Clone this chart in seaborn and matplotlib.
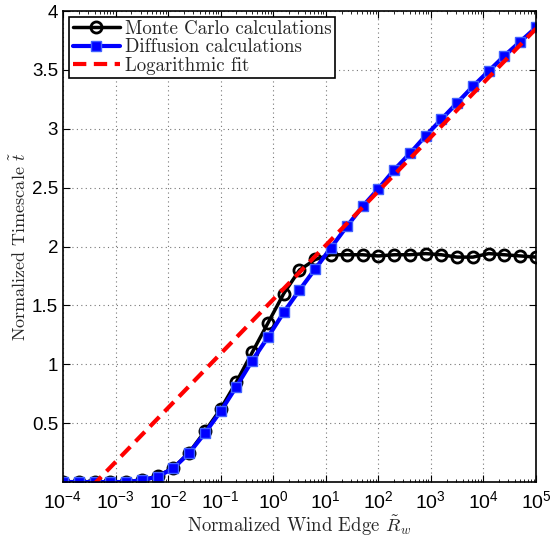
import numpy as np
import pandas as pd
import seaborn as sns
import matplotlib
matplotlib.use('Agg')
import matplotlib.pyplot as plt
from matplotlib.ticker import LogLocator, NullFormatter

# data (31 points, 0.3 decade apart from 1e-4 to 1e5)
log_r = [-4.0, -3.7, -3.4, -3.1, -2.8, -2.5, -2.2, -1.9, -1.6, -1.3, -1.0,
         -0.7, -0.4, -0.1, 0.2, 0.5, 0.8, 1.1, 1.4, 1.7, 2.0, 2.3, 2.6,
         2.9, 3.2, 3.5, 3.8, 4.1, 4.4, 4.7, 5.0]
monte_carlo = [0, 0, 0, 0, 0, 0.015, 0.05, 0.12, 0.25, 0.43, 0.62, 0.85, 1.10,
               1.35, 1.60, 1.80, 1.89, 1.93, 1.93, 1.93, 1.92, 1.93, 1.93, 1.94,
               1.93, 1.91, 1.91, 1.94, 1.93, 1.92, 1.91]
diffusion = [0, 0, 0, 0, 0, 0.015, 0.045, 0.117, 0.245, 0.415, 0.60, 0.81, 1.03,
             1.23, 1.44, 1.63, 1.81, 1.99, 2.17, 2.34, 2.49, 2.65, 2.79, 2.94,
             3.08, 3.22, 3.36, 3.49, 3.62, 3.74, 3.86]
# logarithmic fit, endpoints of the straight line on the log axis
fit_r = [1e-4, 1e5]
fit_t = [-0.29, 3.85]

y_ticks = [0.5, 1, 1.5, 2, 2.5, 3, 3.5, 4]

df = pd.DataFrame({'R': 10.0 ** np.array(log_r), 'mc': monte_carlo, 'diff': diffusion})
fit_df = pd.DataFrame({'R': fit_r, 't': fit_t})

sns.set_style('ticks')
plt.rcParams['font.family'] = ['Liberation Sans', 'DejaVu Sans']
plt.rcParams['mathtext.fontset'] = 'cm'
plt.rcParams['xtick.direction'] = 'in'
plt.rcParams['ytick.direction'] = 'in'

serif = ['cmr10', 'DejaVu Serif']

fig = plt.figure(figsize=(5.5, 5.37), dpi=100)
ax = fig.add_axes([0.1145, 0.1024, 0.8600, 0.8771])

sns.lineplot(data=df, x='R', y='mc', ax=ax, color='black', lw=2.5, marker='o',
             markersize=8, markerfacecolor='none', markeredgecolor='black',
             markeredgewidth=2, label='Monte Carlo calculations')
sns.lineplot(data=df, x='R', y='diff', ax=ax, color='#0000ff', lw=3, marker='s',
             markersize=7.5, markerfacecolor='#0000ff', markeredgecolor='#4060ff',
             markeredgewidth=1, label='Diffusion calculations')
sns.lineplot(data=fit_df, x='R', y='t', ax=ax, color='#ff0000', lw=3,
             linestyle=(0, (3.2, 1.8)), label='Logarithmic fit')

ax.set_xscale('log')
ax.set_xlim(1e-4, 1e5)
ax.set_ylim(0, 4)
ax.set_yticks(y_ticks)
ax.set_yticklabels([f'{v:g}' for v in y_ticks])
ax.xaxis.set_major_locator(LogLocator(base=10, numticks=20))
ax.xaxis.set_minor_locator(LogLocator(base=10, subs=np.arange(2, 10), numticks=20))
ax.xaxis.set_minor_formatter(NullFormatter())
ax.tick_params(axis='both', which='both', top=True, right=True, colors='black')
ax.tick_params(axis='y', labelsize=13.5)
ax.tick_params(axis='x', which='major', labelsize=14, pad=6)
ax.tick_params(which='major', length=5, width=0.8)
ax.tick_params(which='minor', length=2.5, width=0.6)
ax.grid(True, which='major', linestyle=(0, (1, 3)), color='#777777', lw=0.8)

for s in ax.spines.values():
    s.set_color('black')
    s.set_linewidth(1.2)

ax.set_xlabel(r'Normalized Wind Edge $\tilde{R}_w$', fontsize=13.5, family=serif,
              labelpad=1)
ax.set_ylabel(r'Normalized Timescale $\tilde{t}$', fontsize=13, family=serif,
              labelpad=2)

leg = ax.legend(loc='upper left', bbox_to_anchor=(0.013, 0.988), frameon=True,
                fancybox=False, prop={'family': serif, 'size': 13.6},
                handlelength=2.5, handletextpad=0.3, borderpad=0.18,
                labelspacing=0.02, borderaxespad=0)
leg.get_frame().set_edgecolor('black')
leg.get_frame().set_linewidth(1.2)
leg.get_frame().set_alpha(1)

fig.savefig('out.png', dpi=100)
